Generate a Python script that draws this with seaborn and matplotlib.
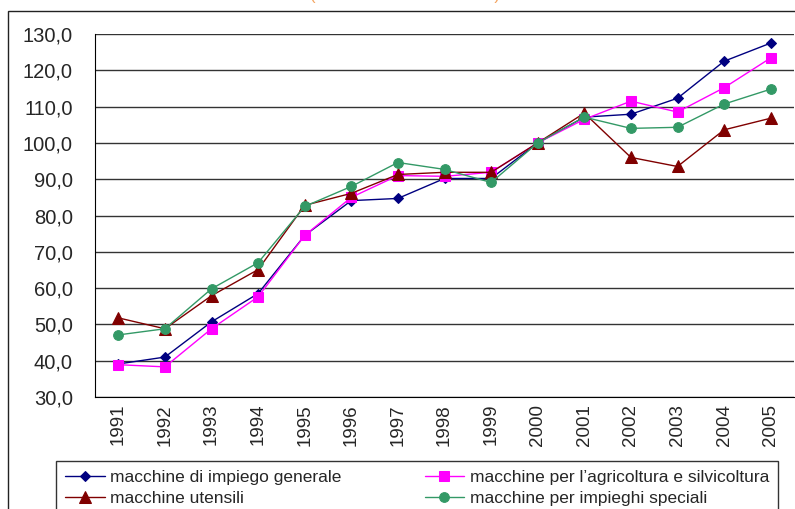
import numpy as np
import pandas as pd
import matplotlib
matplotlib.use('Agg')
import matplotlib.pyplot as plt
import matplotlib.patches as mpatches
import seaborn as sns

anni = ['1991', '1992', '1993', '1994', '1995', '1996', '1997', '1998',
        '1999', '2000', '2001', '2002', '2003', '2004', '2005']

generale = [39.1, 41.0, 50.7, 58.5, 74.5, 84.1, 84.7, 90.2, 90.2, 100.0,
            107.1, 107.9, 112.3, 122.5, 127.5]
agricoltura = [38.9, 38.3, 48.8, 57.6, 74.5, 85.0, 91.0, 90.8, 91.9, 100.0,
               106.5, 111.5, 108.5, 115.2, 123.4]
utensili = [51.8, 48.8, 57.9, 65.1, 82.8, 86.1, 91.3, 91.9, 91.9, 100.0,
            108.2, 96.0, 93.5, 103.6, 106.8]
speciali = [47.1, 48.8, 59.8, 67.0, 82.5, 88.0, 94.6, 92.7, 89.1, 100.0,
            107.1, 104.0, 104.3, 110.7, 114.8]

serie = ['macchine di impiego generale',
         'macchine per l\u2019agricoltura e silvicoltura',
         'macchine utensili',
         'macchine per impieghi speciali']
valori = [generale, agricoltura, utensili, speciali]
colori = ['#000080', '#FF00FF', '#800000', '#339966']
marker = ['D', 's', '^', 'o']
msize = [5, 7, 8, 7]

sns.set_style('white')
plt.rcParams['font.family'] = ['Liberation Sans', 'DejaVu Sans']

fig = plt.figure(figsize=(7.95, 5.09), dpi=100)
ax = fig.add_axes([95 / 795, 1 - 397 / 509, 699 / 795, 363 / 509])

for i in range(len(serie)):
    df = pd.DataFrame({'x': np.arange(len(anni)), 'y': valori[i]})
    sns.lineplot(data=df, x='x', y='y', ax=ax, color=colori[i], marker=marker[i],
                 markersize=msize[i], markeredgecolor=colori[i], linewidth=1,
                 label=serie[i], legend=False)

ax.set_xlim(-0.5, len(anni) - 0.5)
ax.set_ylim(30, 130)
ax.set_yticks(np.arange(30, 131, 10))
ax.set_yticklabels([('%.1f' % v).replace('.', ',') for v in np.arange(30, 131, 10)], fontsize=14.5)
ax.set_xticks(np.arange(-0.5, len(anni), 1))
ax.set_xticklabels([])
ax.set_xticks(np.arange(len(anni)), minor=True)
ax.set_xticklabels(anni, minor=True, rotation=90, fontsize=13.5)
ax.tick_params(axis='x', which='major', length=5, color='black', width=1, direction='out')
ax.tick_params(axis='x', which='minor', length=0, pad=5)
ax.tick_params(axis='y', length=6, color='#444444', width=1, direction='out', pad=10)
ax.yaxis.grid(True, color='#333333', linewidth=1)
ax.set_axisbelow(True)
ax.set_xlabel('')
ax.set_ylabel('')
for s in ['top', 'right']:
    ax.spines[s].set_visible(False)
ax.spines['left'].set_color('black')
ax.spines['bottom'].set_color('black')

# bordo esterno del grafico
fig.patches.append(mpatches.Rectangle((8 / 795, -0.1), 1.1, 0.1 + 1 - 11 / 509,
                                      transform=fig.transFigure, fill=False,
                                      edgecolor='#222222', linewidth=1))

# titolo tagliato in alto
fig.text(0.509, 1.0, '(numeri indice 2000=100)', color='#F4A460', fontsize=12,
         ha='center', va='baseline')

h, l = ax.get_legend_handles_labels()
h = [h[0], h[2], h[1], h[3]]
l = [l[0], l[2], l[1], l[3]]
leg = fig.legend(h, l, ncol=2, loc='upper left', bbox_to_anchor=(56 / 795, 1 - 461 / 509),
                 fontsize=12.5, frameon=True, fancybox=False, edgecolor='black',
                 handlelength=2.3, handletextpad=0.3, columnspacing=4.8,
                 borderpad=0.5, labelspacing=0.35, borderaxespad=0)
leg.get_frame().set_linewidth(1)

fig.savefig('out.png', dpi=100)
